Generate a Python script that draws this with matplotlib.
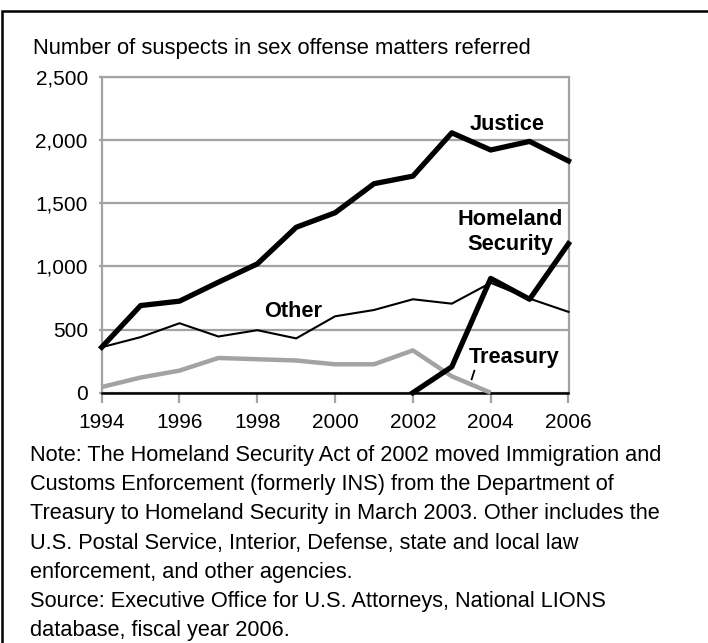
import matplotlib.pyplot as plt
from matplotlib.patches import Rectangle
from matplotlib.ticker import FuncFormatter

plt.rcParams['font.family'] = ['Liberation Sans', 'DejaVu Sans']

years = list(range(1994, 2007))
justice = [360, 690, 725, 875, 1020, 1310, 1425, 1655, 1715, 2058, 1922, 1990, 1835]
other = [360, 440, 550, 445, 495, 430, 605, 655, 740, 705, 870, 745, 640]
homeland_years = [2002, 2003, 2004, 2005, 2006]
homeland = [0, 205, 905, 740, 1180]
treasury_years = list(range(1994, 2005))
treasury = [45, 120, 175, 275, 265, 255, 225, 225, 335, 130, 0]

title = "Number of suspects in sex offense matters referred"
note = ("Note: The Homeland Security Act of 2002 moved Immigration and\n"
        "Customs Enforcement (formerly INS) from the Department of\n"
        "Treasury to Homeland Security in March 2003. Other includes the\n"
        "U.S. Postal Service, Interior, Defense, state and local law\n"
        "enforcement, and other agencies.\n"
        "Source: Executive Office for U.S. Attorneys, National LIONS\n"
        "database, fiscal year 2006.")

grey = '#a3a3a3'
W, H = 708, 643

fig = plt.figure(figsize=(W / 100, H / 100), dpi=100)
# outer frame, open at the right and bottom
fig.patches.append(Rectangle((1.5 / W, -0.1), 1.2, 1 - 11 / H + 0.1,
                             transform=fig.transFigure, fill=False,
                             edgecolor='black', linewidth=1.8))

ax = fig.add_axes([101.7 / W, 1 - 392.7 / H, 466.8 / W, 315.7 / H])
ax.set_xlim(1994, 2006)
ax.set_ylim(0, 2500)
ax.set_yticks([0, 500, 1000, 1500, 2000, 2500])
ax.set_xticks(range(1994, 2007, 2))
ax.yaxis.set_major_formatter(FuncFormatter(lambda v, p: f"{int(v):,}"))
ax.grid(axis='y', color=grey, linewidth=1.6)
ax.set_axisbelow(True)
for s in ['left', 'right', 'top']:
    ax.spines[s].set_color(grey)
    ax.spines[s].set_linewidth(1.6)
ax.spines['bottom'].set_color('black')
ax.spines['bottom'].set_linewidth(1.8)
ax.tick_params(axis='both', colors=grey, width=1.6, labelcolor='black',
               labelsize=15)
ax.tick_params(axis='y', length=2, pad=8)
ax.tick_params(axis='x', length=7, pad=7.5)

ax.plot(treasury_years, treasury, color=grey, linewidth=3.2, clip_on=False,
        solid_capstyle='butt', zorder=3)
ax.plot(years, other, color='black', linewidth=1.5, clip_on=False, zorder=4)
ax.plot(years, justice, color='black', linewidth=3.8, clip_on=False, zorder=5)
ax.plot(homeland_years, homeland, color='black', linewidth=3.8,
        clip_on=False, zorder=5)

lab = dict(fontsize=15.7, fontweight='bold', ha='center', va='center')
ax.text(2004.43, 2127, "Justice", **lab)
ax.text(2004.5, 1272, "Homeland\nSecurity", linespacing=1.2, **lab)
ax.text(1998.93, 641, "Other", **lab)
ax.text(2004.59, 275, "Treasury", **lab)
ax.plot([2003.58, 2003.51], [174, 106], color='black', linewidth=1.3)

fig.text(33 / W, 1 - 54 / H, title, fontsize=15.8, va='baseline')
# va='baseline' on multi-line text pins the last line's baseline
fig.text(30 / W, 1 - 636 / H, note, fontsize=15.7, va='baseline',
         linespacing=1.51)

fig.savefig('out.png', dpi=100)
